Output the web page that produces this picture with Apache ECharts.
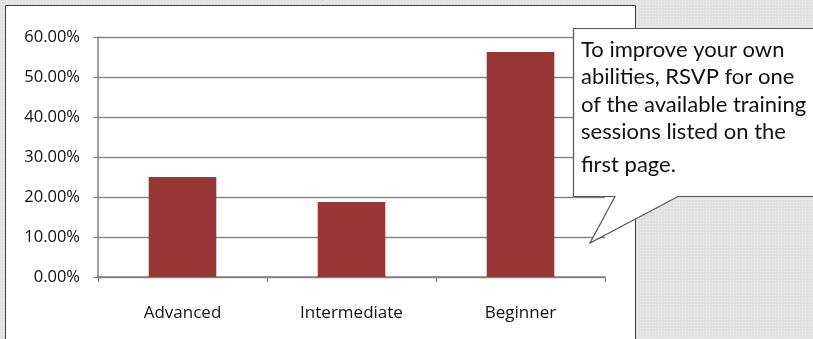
<!DOCTYPE html>
<html>
<head>
<meta charset="utf-8">
<script src="https://cdn.jsdelivr.net/npm/echarts@6/dist/echarts.min.js"></script>
<style>
  html, body { margin: 0; padding: 0; }
  body {
    width: 813px; height: 339px; overflow: hidden;
    background-color: #e2e2e2;
    background-image: radial-gradient(circle, #f2f2f2 0.7px, transparent 0.8px);
    background-size: 3px 3px;
  }
  #chart { width: 813px; height: 339px; }
</style>
</head>
<body>
<div id="chart"></div>
<script>
const categories = ['Advanced', 'Intermediate', 'Beginner'];
const shares = [0.25, 0.1875, 0.5625];
const yMin = 0, yMax = 0.6, yStep = 0.1;
const calloutLines = [
  'To improve your own',
  'abilities, RSVP for one',
  'of the available training',
  'sessions listed on the',
  'first page.'
];
const calloutBaselines = [56.7, 84.3, 112.3, 138.5, 171.7];

const chart = echarts.init(document.getElementById('chart'), null, { renderer: 'canvas' });

const graphics = [
  {
    type: 'rect', z: -10, silent: true,
    shape: { x: 5.5, y: 5.5, width: 630, height: 400 },
    style: { fill: '#ffffff', stroke: '#3a3a3a', lineWidth: 1 }
  },
  {
    type: 'polygon', z: 100, silent: true,
    shape: { points: [[573.5, 28.5], [830, 28.5], [830, 196.5], [678, 196.5], [590, 243], [615, 196.5], [573.5, 196.5]] },
    style: { fill: '#ffffff', stroke: '#555555', lineWidth: 1.2 }
  }
];
calloutLines.forEach(function (line, i) {
  graphics.push({
    type: 'text', z: 101, silent: true,
    style: {
      text: line, x: 581, y: calloutBaselines[i] - 7,
      font: '22px Lato', fill: '#111111',
      verticalAlign: 'middle', align: 'left'
    }
  });
});

chart.setOption({
  animation: false,
  grid: { left: 98, right: 208, top: 37, bottom: 62, containLabel: false },
  xAxis: {
    type: 'category',
    data: categories,
    boundaryGap: true,
    axisLine: { lineStyle: { color: '#808080', width: 1.5 } },
    axisTick: { show: true, length: 5, lineStyle: { color: '#808080' } },
    axisLabel: { margin: 28, color: '#111111', fontFamily: 'Open Sans', fontSize: 17 }
  },
  yAxis: {
    type: 'value',
    min: yMin, max: yMax, interval: yStep,
    axisLine: { show: true, lineStyle: { color: '#808080', width: 1.5 } },
    axisTick: { show: true, length: 5, lineStyle: { color: '#808080' } },
    splitLine: { lineStyle: { color: '#868686', width: 1.3 } },
    axisLabel: {
      margin: 18, color: '#111111', fontFamily: 'Open Sans', fontSize: 16.5,
      formatter: function (v) { return (v * 100).toFixed(2) + '%'; }
    }
  },
  series: [{
    type: 'bar',
    data: shares,
    barWidth: '40%',
    itemStyle: { color: '#953735' }
  }],
  graphic: graphics
});
</script>
</body>
</html>
